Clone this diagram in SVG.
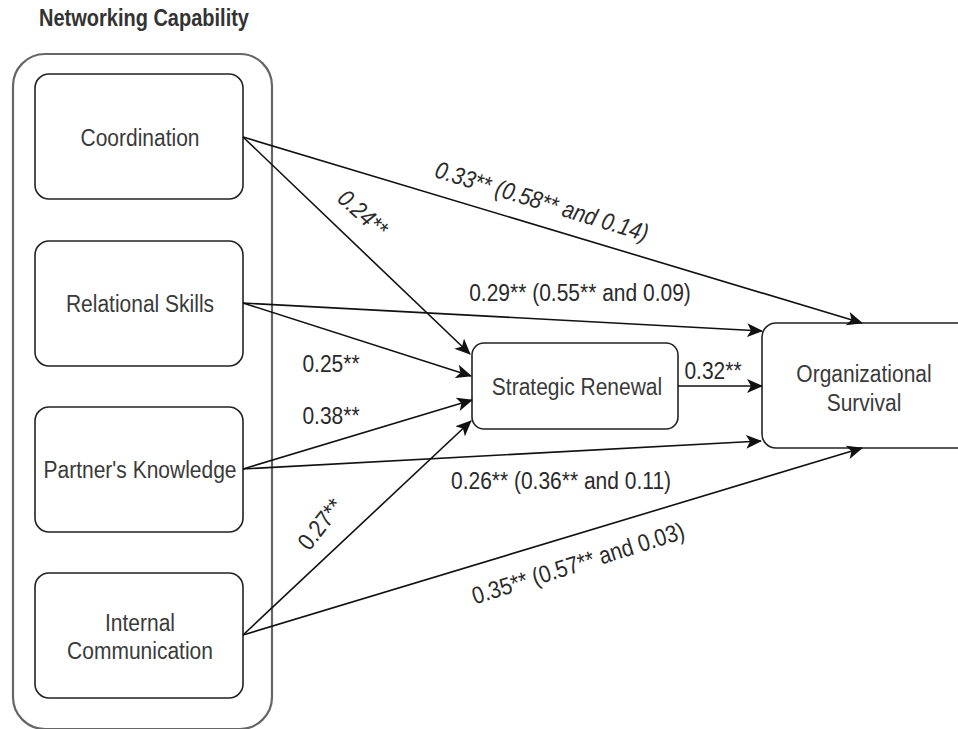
<svg xmlns="http://www.w3.org/2000/svg" width="958" height="729" viewBox="0 0 958 729">
<style>
.bg{fill:#ffffff}
.container{fill:none;stroke:#666666;stroke-width:2.2}
.node{fill:#ffffff;stroke:#222222;stroke-width:1.6}
.t{font-family:"Liberation Sans",Arial,sans-serif;font-size:21px;fill:#3a3a3a;text-anchor:middle}
.title{font-family:"Liberation Sans",Arial,sans-serif;font-size:20px;font-weight:bold;fill:#333333;text-anchor:middle}
.lbl{font-family:"Liberation Sans",Arial,sans-serif;font-size:21px;fill:#2a2a2a;text-anchor:middle}
.it{font-style:italic}
.edge{fill:none;stroke:#111111;stroke-width:1.6;marker-end:url(#arrow)}
</style>
<defs>
<marker id="arrow" markerUnits="userSpaceOnUse" markerWidth="16" markerHeight="14" viewBox="0 0 16 14" refX="15" refY="7" orient="auto">
<path d="M0,0 L16,7 L0,14 L4,7 z" fill="#111111"/>
</marker>
</defs>
<rect class="bg" x="0" y="0" width="958" height="729"/>

<g id="title">
<text class="title" transform="translate(144,18) scale(1,1.15)" y="7">Networking Capability</text>
</g>

<g id="networking-capability">
<rect class="container" x="13" y="54" width="259" height="675" rx="32" ry="32"/>
</g>

<g id="coordination">
<rect class="node" x="35" y="74" width="208" height="125" rx="14" ry="14"/>
<text class="t" transform="translate(140,137) scale(1,1.15)" y="7.5">Coordination</text>
</g>

<g id="relational-skills">
<rect class="node" x="35" y="241" width="208" height="125" rx="14" ry="14"/>
<text class="t" transform="translate(140,303) scale(1,1.15)" y="7.5">Relational Skills</text>
</g>

<g id="partners-knowledge">
<rect class="node" x="35" y="407" width="208" height="125" rx="14" ry="14"/>
<text class="t" transform="translate(140,469) scale(1,1.15)" y="7.5">Partner's Knowledge</text>
</g>

<g id="internal-communication">
<rect class="node" x="35" y="573" width="208" height="125" rx="14" ry="14"/>
<text class="t" transform="translate(140,622) scale(1,1.15)" y="7.5">Internal</text>
<text class="t" transform="translate(140,650) scale(1,1.15)" y="7.5">Communication</text>
</g>

<g id="strategic-renewal">
<rect class="node" x="472" y="343" width="206" height="86" rx="12" ry="12"/>
<text class="t" transform="translate(577,386) scale(1,1.15)" y="7.5">Strategic Renewal</text>
</g>

<g id="organizational-survival">
<rect class="node" x="762" y="323" width="230" height="125" rx="14" ry="14"/>
<text class="t" transform="translate(864,373) scale(1,1.15)" y="7.5">Organizational</text>
<text class="t" transform="translate(864,402) scale(1,1.15)" y="7.5">Survival</text>
</g>

<g id="connectors">
<line class="edge" x1="243" y1="137" x2="862" y2="323"/>
<line class="edge" x1="243" y1="137" x2="470" y2="354"/>
<line class="edge" x1="243" y1="303" x2="762" y2="331"/>
<line class="edge" x1="243" y1="303" x2="471" y2="376"/>
<line class="edge" x1="243" y1="469" x2="472" y2="400"/>
<line class="edge" x1="243" y1="469" x2="761" y2="441"/>
<line class="edge" x1="243" y1="635" x2="471" y2="421"/>
<line class="edge" x1="243" y1="635" x2="862" y2="448"/>
<line class="edge" x1="678" y1="386" x2="762" y2="386"/>
</g>

<g id="connector-labels">
<text class="lbl it" transform="translate(542,201) rotate(17) scale(1,1.15)" y="7.5">0.33** (0.58** and 0.14)</text>
<text class="lbl it" transform="translate(363,213) rotate(42) scale(1,1.15)" y="7.5">0.24**</text>
<text class="lbl" transform="translate(580,292) scale(1,1.15)" y="7.5">0.29** (0.55** and 0.09)</text>
<text class="lbl" transform="translate(331,363) scale(1,1.15)" y="7.5">0.25**</text>
<text class="lbl" transform="translate(331,415) scale(1,1.15)" y="7.5">0.38**</text>
<text class="lbl" transform="translate(713,370) scale(1,1.15)" y="7.5">0.32**</text>
<text class="lbl" transform="translate(561,480) scale(1,1.15)" y="7.5">0.26** (0.36** and 0.11)</text>
<text class="lbl" transform="translate(320,524) rotate(-52) scale(1,1.15)" y="7.5">0.27**</text>
<text class="lbl" transform="translate(578,563) rotate(-17.5) scale(1,1.15)" y="7.5">0.35** (0.57** and 0.03)</text>
</g>
</svg>
